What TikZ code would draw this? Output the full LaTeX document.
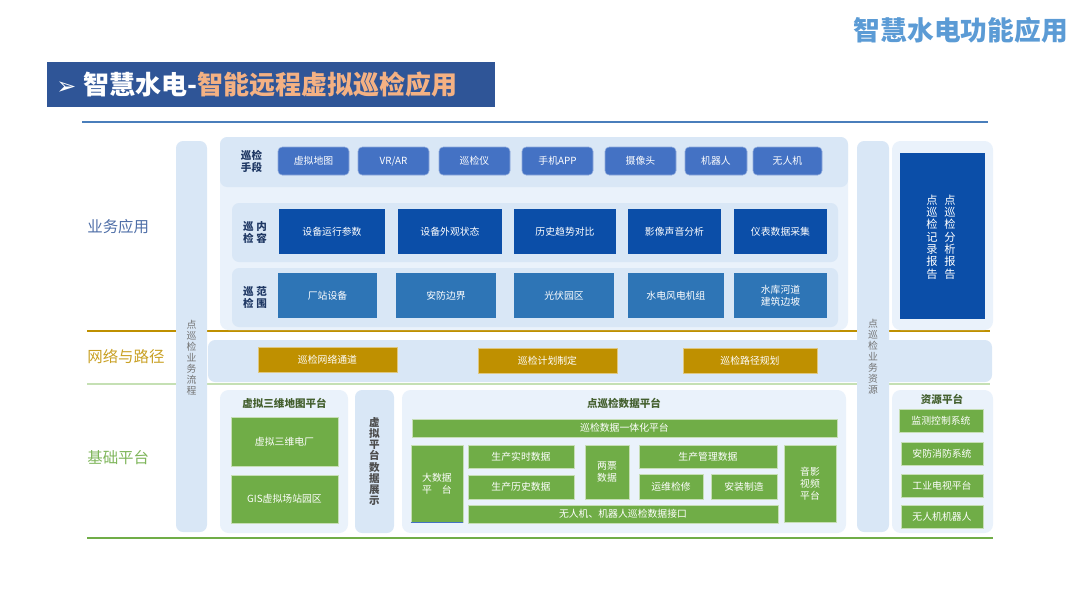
\documentclass[tikz,border=0pt]{standalone}
\usepackage{fontspec}
\setmainfont{Noto Sans CJK SC}
\newfontfamily\arrowfont{DejaVu Sans}
\usetikzlibrary{positioning}

\definecolor{panelblue}{HTML}{D9E7F6}
\definecolor{palepanel}{HTML}{EAF2FB}
\definecolor{btnblue}{HTML}{4472C4}
\definecolor{deepblue}{HTML}{0B4EA8}
\definecolor{midblue}{HTML}{2E75B6}
\definecolor{navy}{HTML}{2F5597}
\definecolor{darknavy}{HTML}{1F3864}
\definecolor{gold}{HTML}{BF9000}
\definecolor{leaf}{HTML}{70AD47}
\definecolor{paleleaf}{HTML}{C5E0B4}
\definecolor{olive}{HTML}{44602F}
\definecolor{skytitle}{HTML}{5B9BD5}
\definecolor{peach}{HTML}{F4B183}
\definecolor{rule}{HTML}{4A7EBB}

\newcommand{\px}{0.025cm}
\tikzset{
    wh/.style 2 args={minimum width=#1*\px, minimum height=#2*\px},
    panel/.style={fill=panelblue, rounded corners=5pt, inner sep=0pt},
    lightpanel/.style={fill=palepanel, rounded corners=6pt, inner sep=0pt},
    cell/.style={text=white, inner sep=0pt, align=center,
        font=\fontsize{7}{8.5}\selectfont},
    handbtn/.style={cell, fill=btnblue, rounded corners=3pt, draw=btnblue!60!white, line width=0.4pt},
    itembox/.style={cell, fill=deepblue},
    scopebox/.style={cell, fill=midblue},
    netbox/.style={cell, fill=gold, draw=gold!50!white, line width=0.4pt},
    basebox/.style={cell, fill=leaf, draw=leaf!40!white, line width=0.5pt},
    vlabel/.style={align=center, inner sep=0pt, text=black!55,
        font=\fontsize{7}{7.8}\selectfont},
    rowlabel/.style={align=center, inner sep=0pt, text=darknavy,
        font=\bfseries\fontsize{7.5}{8.5}\selectfont},
    layer/.style={anchor=west, inner sep=0pt, font=\fontsize{11}{13}\selectfont},
    subtitle/.style={inner sep=0pt, text=olive, font=\bfseries\fontsize{7.5}{9}\selectfont}
}

\begin{document}
\begin{tikzpicture}[x=\px, y=-\px]
\useasboundingbox (0,0) rectangle (1080,608);

% page title and banner
\node[anchor=east, inner sep=0pt, text=skytitle, font=\bfseries\fontsize{19}{21}\selectfont]
    (pagetitle) at (1068,30) {智慧水电功能应用};
\node[fill=navy, inner sep=0pt, wh={448}{45}] (banner) at (271,84.5) {};
\node[anchor=west, inner sep=0pt, text=white, font=\bfseries\fontsize{18.5}{20}\selectfont]
    (bannertext) at (56,85) {{\arrowfont\fontsize{17}{18}\selectfont ➢}\hspace{5pt}智慧水电-\textcolor{peach}{智能远程虚拟巡检应用}};

% rules
\coordinate (ruleA) at (82,122);  \coordinate (ruleB) at (988,122);
\coordinate (goldA) at (87,331);  \coordinate (goldB) at (990,331);
\coordinate (paleA) at (87,384);  \coordinate (paleB) at (990,384);
\coordinate (baseA) at (87,538);  \coordinate (baseB) at (993,538);
\draw[rule, line width=1.4pt] (ruleA) -- (ruleB);
\draw[gold, line width=1.2pt] (goldA) -- (goldB);
\draw[paleleaf, line width=1pt] (paleA) -- (paleB);
\draw[leaf, line width=1.4pt] (baseA) -- (baseB);

% layer names
\node[layer, text=navy!85!white] (layerapp) at (87,227) {业务应用};
\node[layer, text=gold!85!white] (layernet) at (87,357) {网络与路径};
\node[layer, text=leaf!90!white] (layerbase) at (87,458) {基础平台};

% side bars
\node[panel, wh={31}{391}] (flowbar) at (191.5,336.5) {};
\node[vlabel] (flowtext) at (191.5,358) {点\\巡\\检\\业\\务\\流\\程};
\node[panel, wh={32}{391}] (resbar) at (873,336.5) {};

% application layer
\node[lightpanel, wh={628}{193}] (apppanel) at (534,233.5) {};
\node[panel, wh={628}{50}] (handstrip) at (534,162) {};
\node[panel, wh={606}{59}] (itemrow) at (535,232.5) {};
\node[panel, wh={606}{59}] (scoperow) at (535,297.5) {};
\node[rowlabel] (handlabel) at (251.5,161) {巡检\\手段};
\node[rowlabel] (itemlabel) at (255,232.5) {巡\hspace{2pt}内\\检\hspace{2pt}容};
\node[rowlabel] (scopelabel) at (255,297.5) {巡\hspace{2pt}范\\检\hspace{2pt}围};

\foreach \cx/\w/\txt/\nm in {313.5/71/虚拟地图/map, 393.5/71/{VR/AR}/vrar,
    474.5/71/巡检仪/meter, 557.5/71/手机APP/phone, 640.5/71/摄像头/camera,
    716/62/机器人/robot, 787.5/69/无人机/drone}
  \node[handbtn, wh={\w}{28}] (hand-\nm) at (\cx,161) {\txt};

\foreach \cx/\w/\txt/\nm in {332/106/设备运行参数/run, 450/104/设备外观状态/look,
    565/102/历史趋势对比/trend, 674.5/93/影像声音分析/sound, 780.5/93/仪表数据采集/gauge}
  \node[itembox, wh={\w}{45}] (item-\nm) at (\cx,231.5) {\txt};

\foreach \cx/\w/\txt/\nm in {327.5/99/厂站设备/plant, 446/100/安防边界/border,
    564/100/光伏园区/solar, 676/96/水电风电机组/units, 780.5/93/{水库河道\\建筑边坡}/dam}
  \node[scopebox, wh={\w}{45}] (scope-\nm) at (\cx,295.5) {\txt};

% reports
\node[lightpanel, wh={101}{189}] (reportpanel) at (942.5,235.5) {};
\node[fill=deepblue, inner sep=0pt, wh={85}{166}] (reportbox) at (942.5,236) {};
\node[vlabel, text=white, font=\fontsize{8}{8.8}\selectfont] (reportrec) at (932,237) {点\\巡\\检\\记\\录\\报\\告};
\node[vlabel, text=white, font=\fontsize{8}{8.8}\selectfont] (reportana) at (950,237) {点\\巡\\检\\分\\析\\报\\告};

% network layer
\node[panel, wh={784}{42}] (netpanel) at (600,361) {};
\node[netbox, wh={139}{25}] (net-channel) at (327.5,359.5) {巡检网络通道};
\node[netbox, wh={139}{25}] (net-plan) at (547.5,360.5) {巡检计划制定};
\node[netbox, wh={134}{25}] (net-route) at (750,360.5) {巡检路径规划};
\node[vlabel] (restext) at (873,357) {点\\巡\\检\\业\\务\\资\\源};

% base layer: 3D map platform
\node[lightpanel, wh={128}{143}] (mappanel) at (284,461.5) {};
\node[subtitle] (maptitle) at (284.5,403) {虚拟三维地图平台};
\node[basebox, wh={107}{49}] (map-plant) at (284.5,441.5) {虚拟三维电厂};
\node[basebox, wh={107}{48}] (map-gis) at (284.5,499) {GIS虚拟场站园区};

\node[panel, wh={39}{143}] (showpanel) at (374.5,461.5) {};
\node[vlabel, text=black!70, font=\bfseries\fontsize{7.5}{7.9}\selectfont] (showtext) at (374.5,461.5)
    {虚\\拟\\平\\台\\数\\据\\展\\示};

% base layer: inspection data platform
\node[lightpanel, wh={444}{143}] (datapanel) at (624,461.5) {};
\node[subtitle] (datatitle) at (624,403) {点巡检数据平台};
\node[basebox, wh={425}{18}] (data-unified) at (624.5,428) {巡检数据一体化平台};
\node[basebox, wh={52}{77}] (data-big) at (437,483.5) {大数据\\平\hspace{1em}台};
\draw[btnblue, line width=0.8pt] (data-big.south west) -- (data-big.south east);
\node[basebox, wh={106}{23}] (data-live) at (521,456.5) {生产实时数据};
\node[basebox, wh={106}{24}] (data-hist) at (521,487) {生产历史数据};
\node[basebox, wh={44}{54}] (data-ticket) at (607,472) {两票\\数据};
\node[basebox, wh={138}{23}] (data-manage) at (708,456.5) {生产管理数据};
\node[basebox, wh={64}{25}] (data-repair) at (671,486.5) {运维检修};
\node[basebox, wh={66}{25}] (data-build) at (744,486.5) {安装制造};
\node[basebox, wh={310}{18}] (data-port) at (623,514) {无人机、机器人巡检数据接口};
\node[basebox, wh={52}{77}] (data-video) at (810,483.5) {音影\\视频\\平台};

% base layer: resources
\node[lightpanel, wh={101}{143}] (respanel) at (942.5,461.5) {};
\node[subtitle] (restitle) at (942,399) {资源平台};
\node[basebox, wh={84}{23}] (res-monitor) at (941,420.5) {监测控制系统};
\foreach \cy/\txt/\nm in {453.5/安防消防系统/fire, 485.5/工业电视平台/tv, 516.5/无人机机器人/uav}
  \node[basebox, wh={82}{23}] (res-\nm) at (942,\cy) {\txt};

\end{tikzpicture}
\end{document}
